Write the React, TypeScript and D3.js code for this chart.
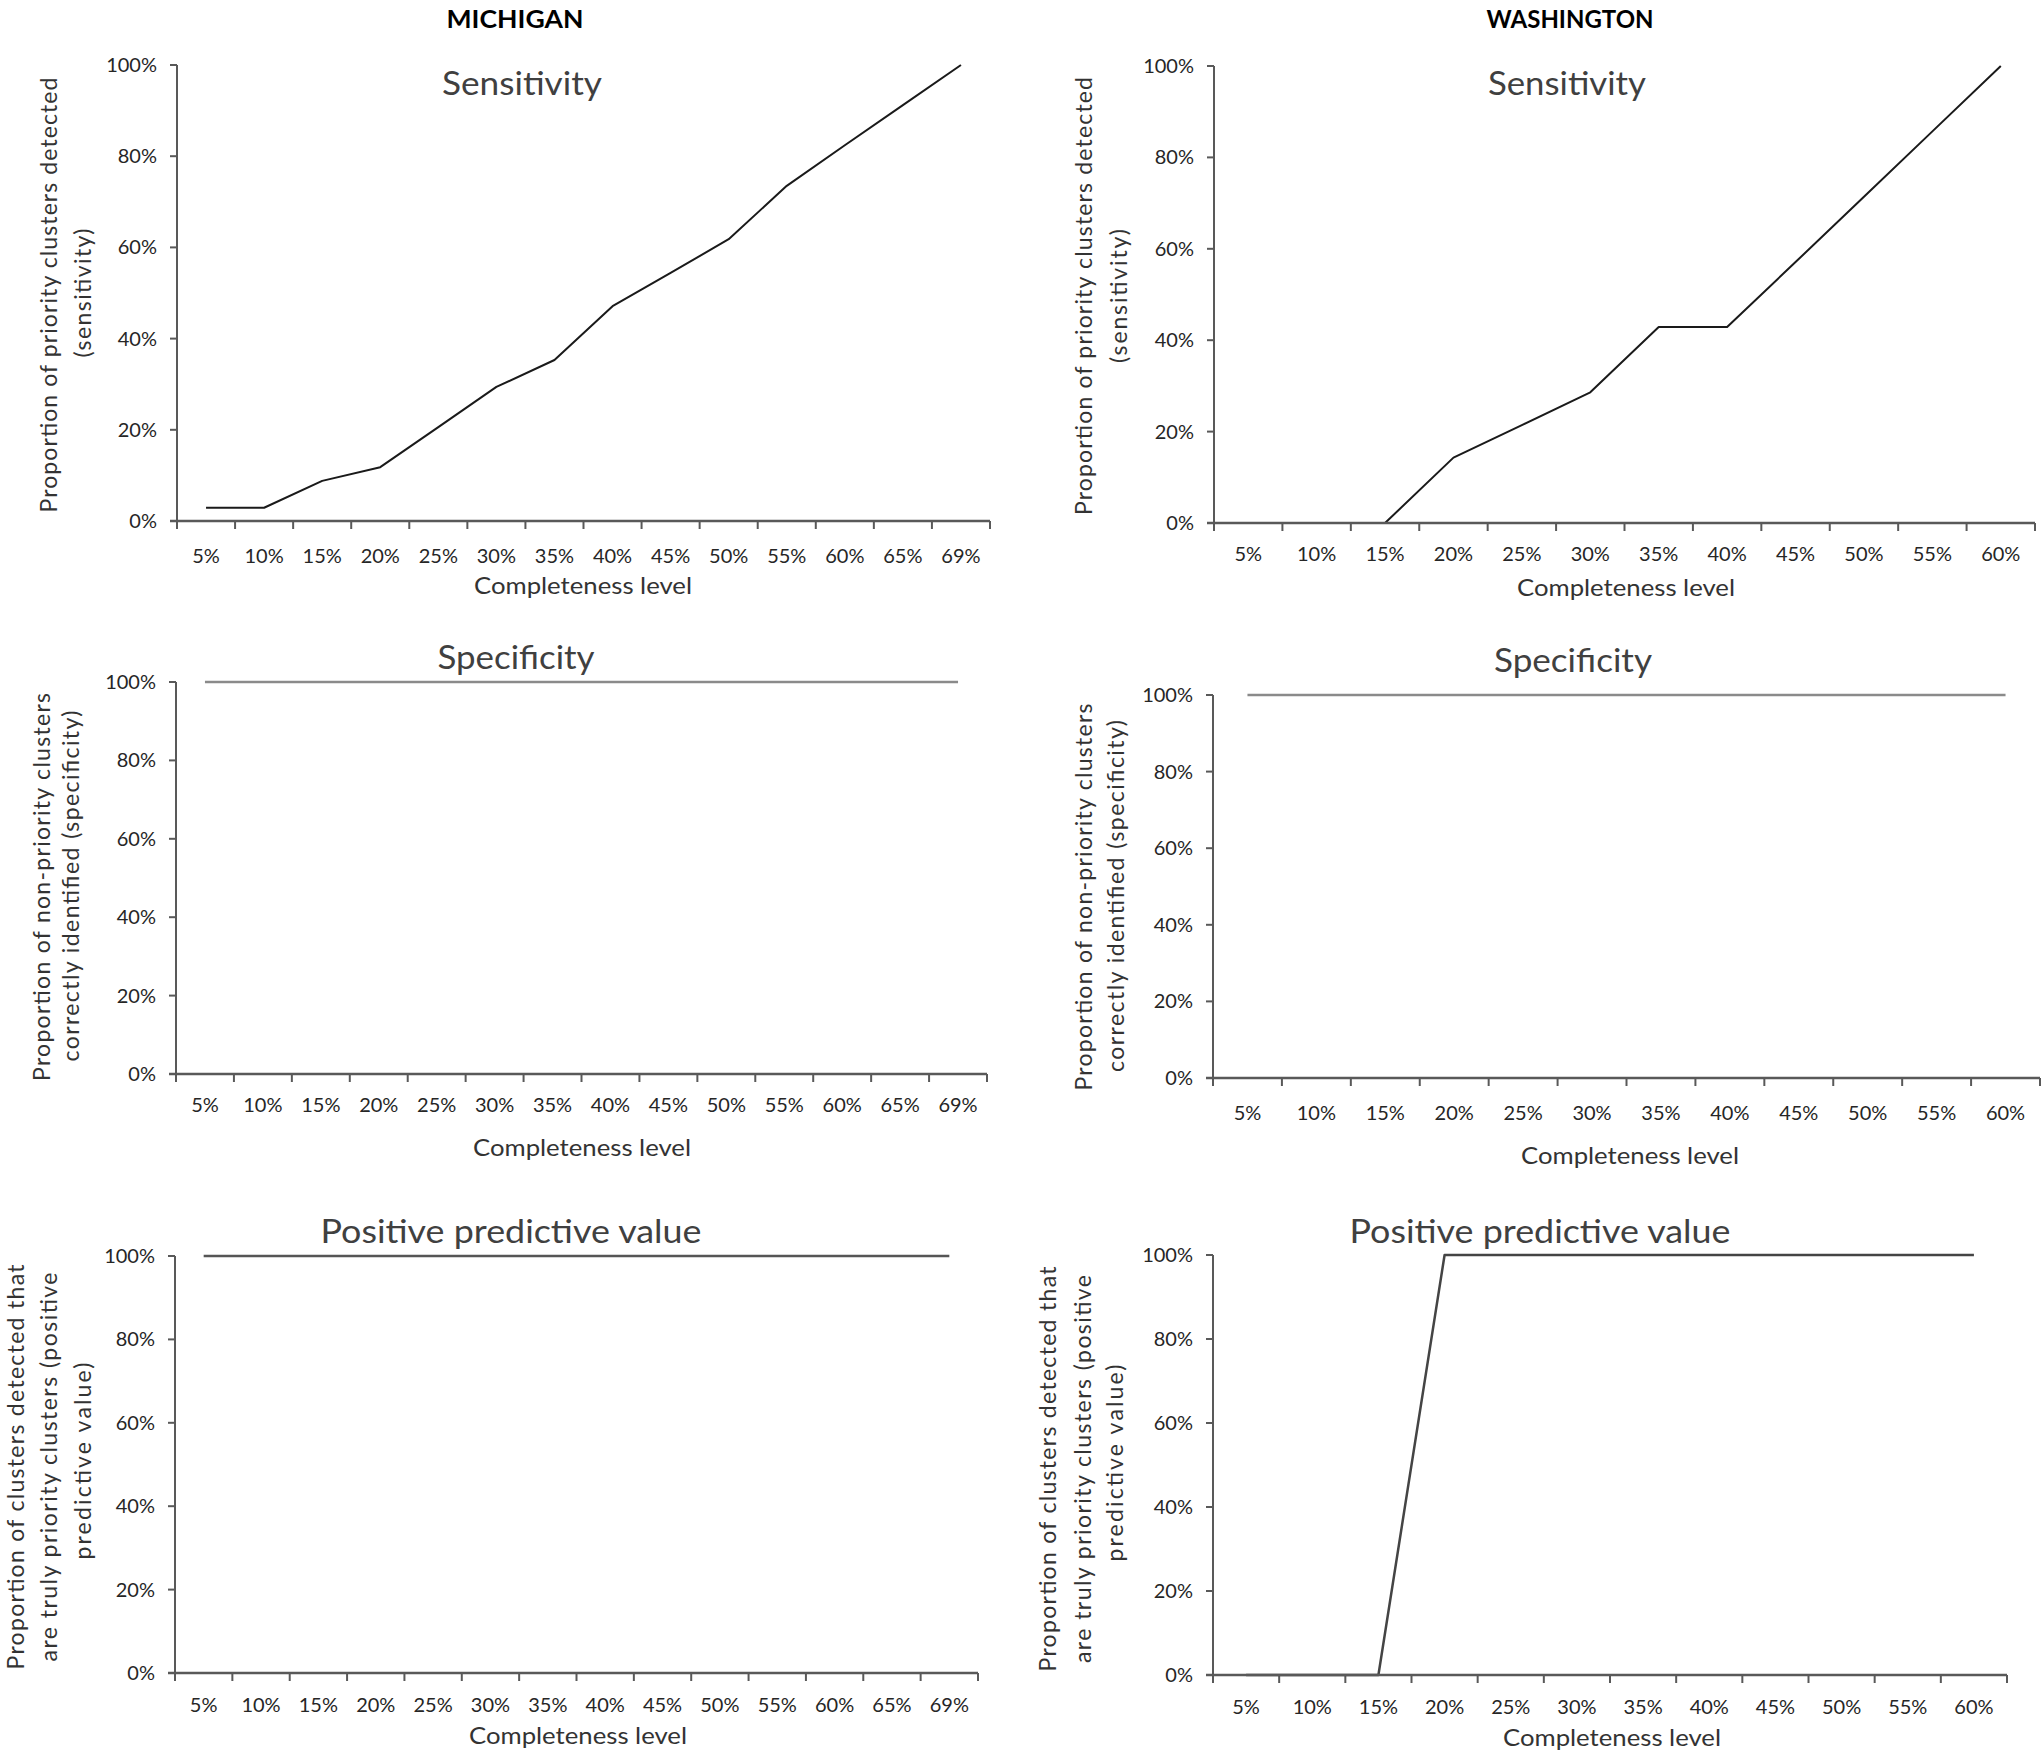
import React from "react";
import * as d3 from "d3";

const miCategories = ["5%", "10%", "15%", "20%", "25%", "30%", "35%", "40%", "45%", "50%", "55%", "60%", "65%", "69%"];
const waCategories = ["5%", "10%", "15%", "20%", "25%", "30%", "35%", "40%", "45%", "50%", "55%", "60%"];

const miSensitivity = [2.9, 2.9, 8.8, 11.8, 20.6, 29.4, 35.3, 47.1, 54.4, 61.8, 73.5, 82.4, 91.2, 100];
const waSensitivity = [0, 0, 0, 14.3, 21.4, 28.6, 42.9, 42.9, 57.1, 71.4, 85.7, 100];
const miSpecificity = [100, 100, 100, 100, 100, 100, 100, 100, 100, 100, 100, 100, 100, 100];
const waSpecificity = [100, 100, 100, 100, 100, 100, 100, 100, 100, 100, 100, 100];
const miPPV = [100, 100, 100, 100, 100, 100, 100, 100, 100, 100, 100, 100, 100, 100];
const waPPV = [0, 0, 0, 100, 100, 100, 100, 100, 100, 100, 100, 100];

const yTicks = [0, 20, 40, 60, 80, 100];
const stateTitles = ["MICHIGAN", "WASHINGTON"];
const xAxisTitle = "Completeness level";

type Panel = {
  cats: string[];
  values: number[];
  title: string;
  titleLen: number;
  yTitle: string[];
  x0: number; x1: number; yTop: number; yBot: number;
  titleX: number; titleY: number;
  tickY: number; xTitleX: number; xTitleY: number;
  yTitleX: number[]; yTitleY: number[]; yTitleLen: number[];
  lineColor: string; lineWidth: number;
};

const panels: Panel[] = [
  {
    cats: miCategories, values: miSensitivity, title: "Sensitivity", titleLen: 160,
    yTitle: ["Proportion of priority clusters detected", "(sensitivity)"],
    x0: 177, x1: 990, yTop: 65, yBot: 521,
    titleX: 522, titleY: 95, tickY: 556, xTitleX: 583, xTitleY: 586,
    yTitleX: [48, 82], yTitleY: [295, 293], yTitleLen: [435, 129],
    lineColor: "#1a1a1a", lineWidth: 2,
  },
  {
    cats: waCategories, values: waSensitivity, title: "Sensitivity", titleLen: 158,
    yTitle: ["Proportion of priority clusters detected", "(sensitivity)"],
    x0: 1214, x1: 2035, yTop: 66, yBot: 523,
    titleX: 1567, titleY: 95, tickY: 554, xTitleX: 1626, xTitleY: 588,
    yTitleX: [1083, 1118], yTitleY: [296, 296], yTitleLen: [438, 134],
    lineColor: "#1a1a1a", lineWidth: 2,
  },
  {
    cats: miCategories, values: miSpecificity, title: "Specificity", titleLen: 157,
    yTitle: ["Proportion of non-priority clusters", "correctly identified (specificity)"],
    x0: 176, x1: 987, yTop: 682, yBot: 1074,
    titleX: 516, titleY: 669, tickY: 1105, xTitleX: 582, xTitleY: 1148,
    yTitleX: [41, 70], yTitleY: [887, 886], yTitleLen: [388, 351],
    lineColor: "#8a8a8a", lineWidth: 2.5,
  },
  {
    cats: waCategories, values: waSpecificity, title: "Specificity", titleLen: 158,
    yTitle: ["Proportion of non-priority clusters", "correctly identified (specificity)"],
    x0: 1213, x1: 2040, yTop: 695, yBot: 1078,
    titleX: 1573, titleY: 672, tickY: 1113, xTitleX: 1630, xTitleY: 1156,
    yTitleX: [1083, 1115], yTitleY: [897, 896], yTitleLen: [387, 352],
    lineColor: "#8a8a8a", lineWidth: 2.5,
  },
  {
    cats: miCategories, values: miPPV, title: "Positive predictive value", titleLen: 381,
    yTitle: ["Proportion of clusters detected that", "are truly priority clusters (positive", "predictive value)"],
    x0: 175, x1: 978, yTop: 1256, yBot: 1673,
    titleX: 511, titleY: 1243, tickY: 1705, xTitleX: 578, xTitleY: 1736,
    yTitleX: [15, 48, 82], yTitleY: [1467, 1467, 1461], yTitleLen: [405, 389, 197],
    lineColor: "#555555", lineWidth: 2.5,
  },
  {
    cats: waCategories, values: waPPV, title: "Positive predictive value", titleLen: 381,
    yTitle: ["Proportion of clusters detected that", "are truly priority clusters (positive", "predictive value)"],
    x0: 1213, x1: 2007, yTop: 1255, yBot: 1675,
    titleX: 1540, titleY: 1243, tickY: 1707, xTitleX: 1612, xTitleY: 1738,
    yTitleX: [1047, 1082, 1114], yTitleY: [1469, 1469, 1463], yTitleLen: [405, 388, 197],
    lineColor: "#444444", lineWidth: 2.5,
  },
];

const FONT = "Lato, 'Open Sans', sans-serif";

function ChartPanel({ p }: { p: Panel }) {
  const x = d3.scaleBand<string>().domain(p.cats).range([p.x0, p.x1]).paddingInner(0).paddingOuter(0);
  const y = d3.scaleLinear().domain([0, 100]).range([p.yBot, p.yTop]);
  const bw = x.bandwidth();
  const line = d3
    .line<number>()
    .x((_, i) => (x(p.cats[i]) as number) + bw / 2)
    .y((v) => y(v));
  const boundaries = p.cats.map((c) => x(c) as number).concat([p.x1]);
  const axisColor = "#595959";
  return (
    <g>
      <text
        x={p.titleX}
        y={p.titleY}
        textAnchor="middle"
        fontFamily={FONT}
        fontSize={33}
        fill="#404040"
        textLength={p.titleLen}
        lengthAdjust="spacingAndGlyphs"
      >
        {p.title}
      </text>
      {yTicks.map((t) => (
        <g key={t}>
          <line x1={p.x0 - 7} x2={p.x0} y1={y(t)} y2={y(t)} stroke={axisColor} strokeWidth={2} />
          <text x={p.x0 - 20} y={y(t)} dy="0.35em" textAnchor="end" fontFamily={FONT} fontSize={20} fill="#262626">
            {t}%
          </text>
        </g>
      ))}
      {boundaries.map((b, i) => (
        <line key={i} x1={b} x2={b} y1={p.yBot} y2={p.yBot + 8} stroke={axisColor} strokeWidth={2} />
      ))}
      {p.cats.map((c) => (
        <text key={c} x={(x(c) as number) + bw / 2} y={p.tickY} dy="0.35em" textAnchor="middle" fontFamily={FONT} fontSize={20} fill="#262626">
          {c}
        </text>
      ))}
      <text x={p.xTitleX} y={p.xTitleY} dy="0.35em" textAnchor="middle" fontFamily={FONT} fontSize={24} fill="#333"
        textLength={218} lengthAdjust="spacingAndGlyphs">
        {xAxisTitle}
      </text>
      {p.yTitle.map((t, i) => (
        <text
          key={i}
          transform={`translate(${p.yTitleX[i]},${p.yTitleY[i]}) rotate(-90)`}
          textAnchor="middle"
          dominantBaseline="central"
          fontFamily={FONT}
          fontSize={23}
          fill="#333"
          textLength={p.yTitleLen[i]}
          lengthAdjust="spacing"
        >
          {t}
        </text>
      ))}
      <line x1={p.x0} x2={p.x0} y1={p.yTop} y2={p.yBot} stroke={axisColor} strokeWidth={2} />
      <path d={line(p.values) || ""} fill="none" stroke={p.lineColor} strokeWidth={p.lineWidth} strokeLinejoin="round" />
      <line x1={p.x0 - 7} x2={p.x1} y1={p.yBot} y2={p.yBot} stroke={axisColor} strokeWidth={2.5} />
    </g>
  );
}

export default function App() {
  return (
    <svg
      width={2043}
      height={1751}
      style={{ position: "absolute", left: 0, top: 0, background: "#fff" }}
    >
      <rect x={0} y={0} width={2043} height={1751} fill="#fff" />
      <text x={515} y={28} textAnchor="middle" fontFamily={FONT} fontWeight="bold" fontSize={24} fill="#000"
        textLength={137} lengthAdjust="spacingAndGlyphs">
        {stateTitles[0]}
      </text>
      <text x={1570} y={28} textAnchor="middle" fontFamily={FONT} fontWeight="bold" fontSize={24} fill="#000"
        textLength={167} lengthAdjust="spacingAndGlyphs">
        {stateTitles[1]}
      </text>
      {panels.map((p, i) => (
        <ChartPanel key={i} p={p} />
      ))}
    </svg>
  );
}
